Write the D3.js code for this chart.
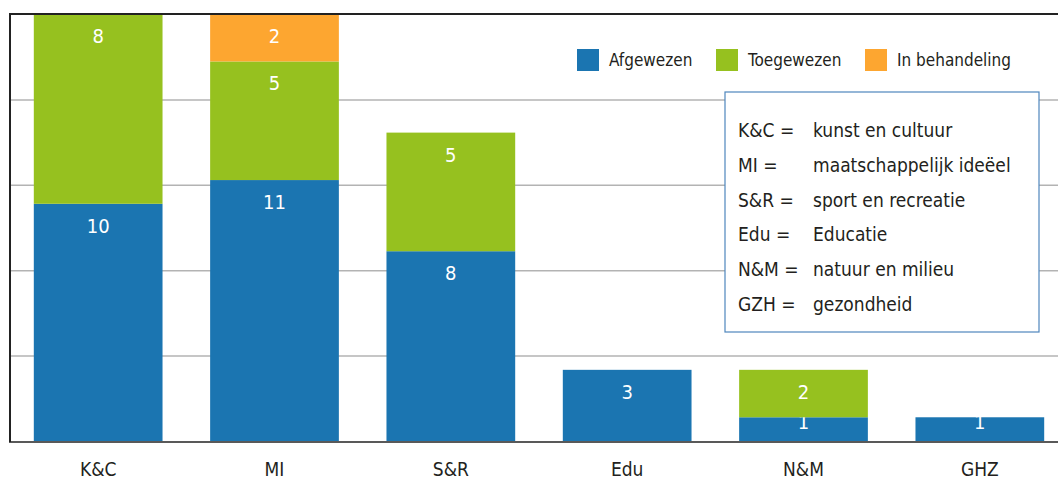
<!DOCTYPE html>
<html>
<head>
<meta charset="utf-8">
<script src="https://cdn.jsdelivr.net/npm/d3@7"></script>
<style>
  body { margin: 0; background: #fff; }
  text { font-family: "Liberation Sans Narrow", "DejaVu Sans Condensed", "Roboto", sans-serif; }
</style>
</head>
<body>
<script>
var width = 1058;
var height = 480;

// data
var categories = ["K&C", "MI", "S&R", "Edu", "N&M", "GHZ"];
var afgewezen = [10, 11, 8, 3, 1, 1];
var toegewezen = [8, 5, 5, 0, 2, 0];
var inBehandeling = [0, 2, 0, 0, 0, 0];
var seriesNames = ["Afgewezen", "Toegewezen", "In behandeling"];
var gridValues = [3.6, 7.2, 10.8, 14.4];
var yMax = 18;
var abbrevs = ["K&C =", "MI =", "S&R =", "Edu =", "N&M =", "GZH ="];
var meanings = ["kunst en cultuur", "maatschappelijk ideëel", "sport en recreatie", "Educatie", "natuur en milieu", "gezondheid"];

var colors = ["#1b75b1", "#96c11f", "#fda630"];
var keys = ["afgewezen", "toegewezen", "inBehandeling"];

var rows = categories.map(function(c, i) {
    return {cat: c, afgewezen: afgewezen[i], toegewezen: toegewezen[i], inBehandeling: inBehandeling[i]};
});

var plotLeft = 10, plotTop = 14, plotBottom = 441;

var x = d3.scaleBand().domain(categories).range([plotLeft, 1068]).paddingInner(0.27).paddingOuter(0.135);
var y = d3.scaleLinear().domain([0, yMax]).range([plotBottom, plotTop]);

var svg = d3.select("body").append("svg")
    .attr("width", width)
    .attr("height", height);

// gridlines
svg.append("g")
    .attr("class", "grid")
    .attr("transform", "translate(" + plotLeft + ",0)")
    .call(d3.axisLeft(y).tickValues(gridValues).tickSize(-(width - plotLeft)).tickFormat(""))
    .call(function(g) { g.select(".domain").remove(); })
    .selectAll("line").attr("stroke", "#b3b3b3").attr("stroke-width", 1.5);

// bars
var stacked = d3.stack().keys(keys)(rows);

var layers = svg.selectAll(".layer").data(stacked).enter().append("g")
    .attr("class", "layer")
    .attr("fill", function(d, i) { return colors[i]; });

layers.selectAll("rect").data(function(d) { return d; }).enter().append("rect")
    .attr("x", function(d) { return x(d.data.cat); })
    .attr("y", function(d) { return y(d[1]); })
    .attr("width", x.bandwidth())
    .attr("height", function(d) { return y(d[0]) - y(d[1]); });

// value labels
layers.selectAll("text").data(function(d) { return d.filter(function(s) { return s[1] - s[0] > 0; }); })
    .enter().append("text")
    .attr("x", function(d) { return x(d.data.cat) + x.bandwidth() / 2; })
    .attr("y", function(d) {
        var h = y(d[0]) - y(d[1]);
        return y(d[1]) + (h < 40 ? 12 : 29);
    })
    .attr("text-anchor", "middle")
    .attr("fill", "#fff")
    .attr("font-size", 20)
    .text(function(d) { return d[1] - d[0]; });

// frame: top line, left axis, bottom axis
svg.append("line").attr("x1", plotLeft).attr("x2", width).attr("y1", plotTop).attr("y2", plotTop)
    .attr("stroke", "#222").attr("stroke-width", 2);
svg.append("line").attr("x1", plotLeft).attr("x2", plotLeft).attr("y1", plotTop - 1).attr("y2", plotBottom + 1)
    .attr("stroke", "#222").attr("stroke-width", 2);
svg.append("line").attr("x1", plotLeft - 1).attr("x2", width).attr("y1", plotBottom + 1).attr("y2", plotBottom + 1)
    .attr("stroke", "#222").attr("stroke-width", 1.5);

// category labels
svg.append("g").selectAll("text").data(categories).enter().append("text")
    .attr("x", function(d) { return x(d) + x.bandwidth() / 2; })
    .attr("y", 476)
    .attr("text-anchor", "middle")
    .attr("fill", "#231f20")
    .attr("font-size", 19)
    .text(function(d) { return d; });

// legend
var legendX = [577, 716, 865];
var legend = svg.append("g").selectAll("g").data(seriesNames).enter().append("g")
    .attr("transform", function(d, i) { return "translate(" + legendX[i] + ",49)"; });
legend.append("rect").attr("width", 22).attr("height", 22)
    .attr("fill", function(d, i) { return colors[i]; });
legend.append("text").attr("x", 32).attr("y", 17)
    .attr("font-size", 17).attr("fill", "#231f20")
    .text(function(d) { return d; });

// abbreviation box
var box = svg.append("g").attr("transform", "translate(725,92)");
box.append("rect").attr("width", 314).attr("height", 240)
    .attr("fill", "#fff").attr("stroke", "#4f86bd").attr("stroke-width", 1.2);
var boxRows = box.selectAll(".row").data(abbrevs).enter().append("g")
    .attr("class", "row")
    .attr("transform", function(d, i) { return "translate(0," + (45 + i * 34.8) + ")"; });
boxRows.append("text").attr("x", 13).attr("font-size", 19).attr("fill", "#231f20")
    .text(function(d) { return d; });
boxRows.append("text").attr("x", 88).attr("font-size", 19).attr("fill", "#231f20")
    .text(function(d, i) { return meanings[i]; });
</script>
</body>
</html>
